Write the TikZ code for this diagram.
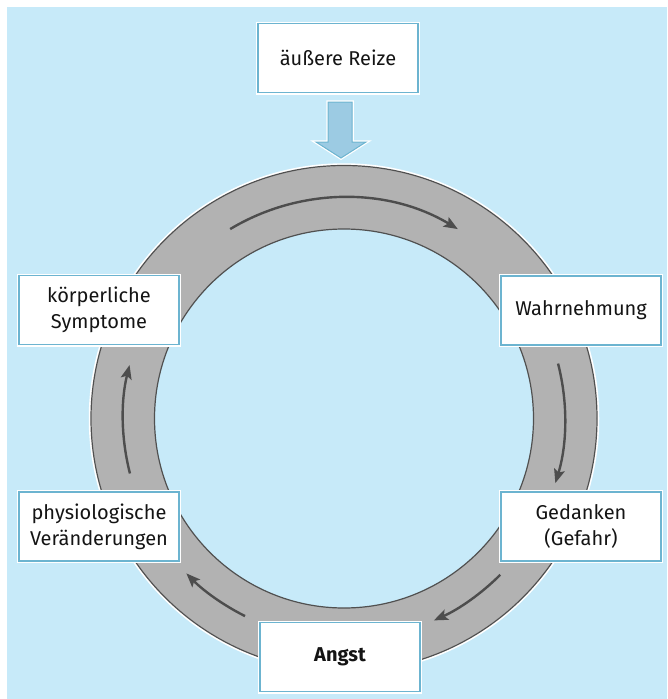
\documentclass[tikz,border=0pt]{standalone}
\usepackage{fontspec}
\setmainfont{Fira Sans}
\usetikzlibrary{arrows.meta}
\definecolor{bgblue}{RGB}{199,234,249}
\definecolor{boxline}{RGB}{108,180,208}
\definecolor{arrowfill}{RGB}{156,203,227}
\definecolor{ringfill}{RGB}{178,178,178}
\definecolor{ringline}{RGB}{80,80,80}
\definecolor{flowline}{RGB}{77,77,77}
\definecolor{txt}{RGB}{20,20,20}
\tikzset{
  labelbox/.style={draw=boxline, line width=1.3pt, fill=white,
    preaction={draw=white, line width=4pt},
    minimum width=160pt, minimum height=69pt, inner sep=0pt,
    align=center, text=txt, font=\fontsize{20}{26}\selectfont},
  flow/.style={draw=flowline, line width=2.4pt,
    -{Stealth[length=14pt,width=11pt,inset=3pt]}},
}
\begin{document}
\begin{tikzpicture}[x=1pt,y=-1pt]
\useasboundingbox (0,0) rectangle (667,699);
\fill[bgblue] (7,7) rectangle (667,699);
\coordinate (c) at (344,418.5);
% ring
\fill[ringfill, even odd rule] (c) circle[radius=253] (c) circle[radius=189.5];
\draw[white, line width=2.5pt] (c) circle[radius=254];
\draw[ringline, line width=1.2pt] (c) circle[radius=253];
\draw[ringline, line width=1.2pt] (c) circle[radius=189.5];
% flow arrows (visual angles negated because y is flipped)
\draw[flow] ([shift={(-121:221)}]c) arc[start angle=-121, end angle=-59, radius=221];
\draw[flow] ([shift={(-14.4:221)}]c) arc[start angle=-14.4, end angle=17, radius=221];
\draw[flow] ([shift={(45:221)}]c) arc[start angle=45, end angle=66, radius=221];
\draw[flow] ([shift={(116.6:221)}]c) arc[start angle=116.6, end angle=135.5, radius=221];
\draw[flow] ([shift={(165.6:221)}]c) arc[start angle=165.6, end angle=194, radius=221];
% boxes
\node[labelbox] (reize) at (338,58) {äußere Reize};
\node[labelbox] (wahr) at (581,310.5) {Wahrnehmung};
\node[labelbox] (ged) at (581,526.5) {Gedanken\\(Gefahr)};
\node[labelbox, font=\fontsize{20}{26}\selectfont\bfseries] (angst) at (340,657) {Angst};
\node[labelbox] (phys) at (99,526.5) {physiologische\\Veränderungen};
\node[labelbox] (koerp) at (99,310) {körperliche\\Symptome};
% input arrow
\draw[boxline, fill=arrowfill, line width=1pt, line join=miter,
  preaction={draw=white, line width=3.5pt}]
  (328,102) -- (352,102) -- (352,142) -- (366,142) -- (341,158)
  -- (316,142) -- (328,142) -- cycle;
\end{tikzpicture}
\end{document}
